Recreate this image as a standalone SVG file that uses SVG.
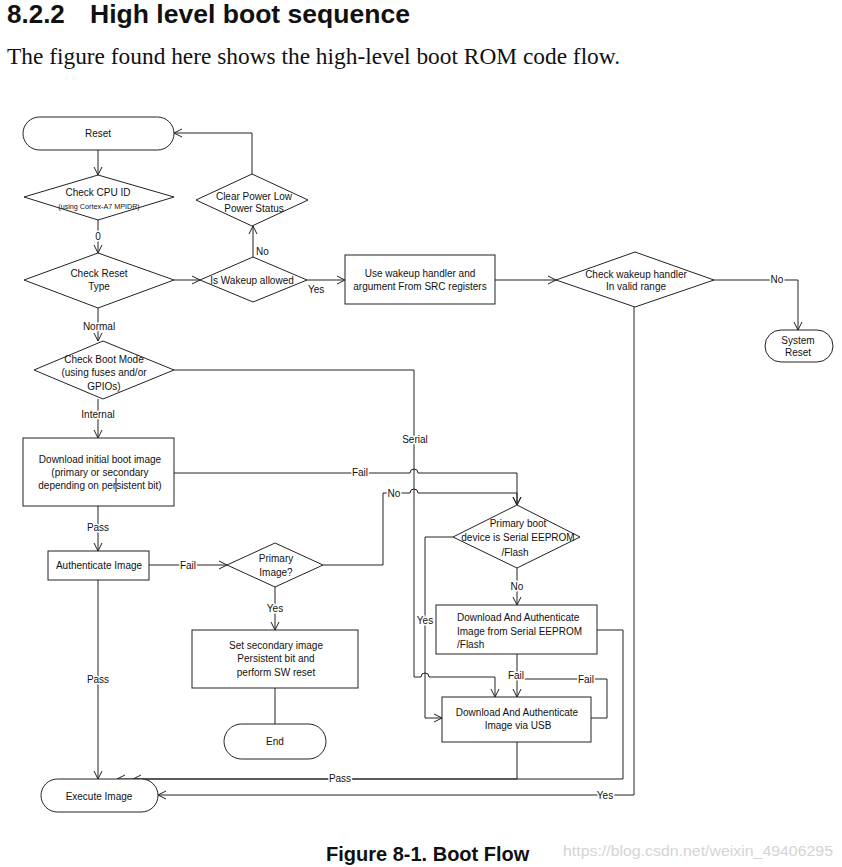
<svg xmlns="http://www.w3.org/2000/svg" width="842" height="867" viewBox="0 0 842 867">
<style>
.n{fill:#fff;stroke:#222;stroke-width:1}
.c{fill:none;stroke:#222;stroke-width:1}
text{font-family:"Liberation Sans",Arial,sans-serif;fill:#111}
.t{font-size:10px;text-anchor:middle}
.s{font-size:7.2px;text-anchor:middle}
.l{font-size:10px;text-anchor:middle;stroke:#fff;stroke-width:3px;paint-order:stroke;stroke-linejoin:round}
</style>
<defs>
<marker id="a" markerWidth="10" markerHeight="10" refX="9" refY="5" orient="auto" markerUnits="userSpaceOnUse">
<path d="M1,1 L9,5 L1,9" fill="none" stroke="#222" stroke-width="1"/>
</marker>
</defs>
<rect width="842" height="867" fill="#fff"/>
<text x="7" y="23" style="font-size:26px;font-weight:bold">8.2.2</text>
<text x="90" y="23" style="font-size:26px;font-weight:bold" textLength="320" lengthAdjust="spacingAndGlyphs">High level boot sequence</text>
<text x="7" y="64" style="font-family:'Liberation Serif','Times New Roman',serif;font-size:23px" textLength="613" lengthAdjust="spacingAndGlyphs">The figure found here shows the high-level boot ROM code flow.</text>

<g id="connectors">
<path class="c" d="M98,150 V175" marker-end="url(#a)"/>
<path class="c" d="M98,220 V253" marker-end="url(#a)"/>
<path class="c" d="M174,280 H200" marker-end="url(#a)"/>
<path class="c" d="M253,257 V226" marker-end="url(#a)"/>
<path class="c" d="M252,174 V133 H174" marker-end="url(#a)"/>
<path class="c" d="M307,280 H345" marker-end="url(#a)"/>
<path class="c" d="M495,280 H556" marker-end="url(#a)"/>
<path class="c" d="M714,280 H798 V330" marker-end="url(#a)"/>
<path class="c" d="M634,307 V795 H158" marker-end="url(#a)"/>
<path class="c" d="M98,308 V341" marker-end="url(#a)"/>
<path class="c" d="M98,399 V438" marker-end="url(#a)"/>
<path class="c" d="M174,370 H414 V677 H421 A4,4 0 0 1 429,677 H495 V697" marker-end="url(#a)"/>
<path class="c" d="M98,506 V551" marker-end="url(#a)"/>
<path class="c" d="M174,473 H410 A4,4 0 0 1 418,473 H517 V505" marker-end="url(#a)"/>
<path class="c" d="M98,580 V779" marker-end="url(#a)"/>
<path class="c" d="M149,565 H227" marker-end="url(#a)"/>
<path class="c" d="M323,565 H383 V493 H410 A4,4 0 0 1 418,493 H517 V505" marker-end="url(#a)"/>
<path class="c" d="M275,587 V630" marker-end="url(#a)"/>
<path class="c" d="M275,688 V724"/>
<path class="c" d="M453,537 H425 V718 H442" marker-end="url(#a)"/>
<path class="c" d="M517,568 V605" marker-end="url(#a)"/>
<path class="c" d="M517,654 V697" marker-end="url(#a)"/>
<path class="c" d="M591,718 H607 V679 H517"/>
<path class="c" d="M597,630 H623 V779 H117" marker-end="url(#a)"/>
<path class="c" d="M517,742 V779 H133" marker-end="url(#a)"/>
<text class="l" x="98" y="240">0</text>
<text x="256" y="255" style="font-size:10px">No</text>
<text x="308" y="293" style="font-size:10px">Yes</text>
<text class="l" x="777" y="283">No</text>
<text class="l" x="99" y="330">Normal</text>
<text class="l" x="98" y="418">Internal</text>
<text class="l" x="415" y="443">Serial</text>
<text class="l" x="360" y="475.5">Fail</text>
<text class="l" x="394" y="496.5">No</text>
<text class="l" x="98" y="530.5">Pass</text>
<text class="l" x="188" y="568.5">Fail</text>
<text class="l" x="275" y="611.5">Yes</text>
<text class="l" x="98" y="682.5">Pass</text>
<text class="l" x="517" y="589.5">No</text>
<text class="l" x="425" y="623.5">Yes</text>
<text class="l" x="516" y="678.5">Fail</text>
<text class="l" x="586" y="682.5">Fail</text>
<text class="l" x="340" y="781.5">Pass</text>
<text class="l" x="605" y="798.5">Yes</text>
</g>

<g id="reset">
<rect class="n" x="23" y="117" width="151" height="33" rx="16.5"/>
<text class="t" x="98" y="137">Reset</text>
</g>
<g id="check-cpu-id">
<polygon class="n" points="24,197 98,175 174,197 98,220"/>
<text class="t" x="98" y="196">Check CPU ID</text>
<text class="s" x="99" y="208.5">(using Cortex-A7 MPIDR)</text>
</g>
<g id="check-reset-type">
<polygon class="n" points="24,280 98,253 174,280 98,308"/>
<text class="t" x="99" y="277">Check Reset</text>
<text class="t" x="99" y="290">Type</text>
</g>
<g id="is-wakeup-allowed">
<polygon class="n" points="200,280 253,257 307,280 253,302"/>
<text class="t" x="252" y="284">Is Wakeup allowed</text>
</g>
<g id="clear-power">
<polygon class="n" points="196,200 252,174 308,200 252,226"/>
<text class="t" x="254" y="199.5">Clear Power Low</text>
<text class="t" x="254" y="211.5">Power Status</text>
</g>
<g id="use-wakeup-handler">
<rect class="n" x="345" y="255" width="150" height="49"/>
<text class="t" x="420" y="277">Use wakeup handler and</text>
<text class="t" x="420" y="290">argument From SRC registers</text>
</g>
<g id="check-wakeup-handler">
<polygon class="n" points="556,280 635,252 714,280 635,307"/>
<text class="t" x="636" y="277.5">Check wakeup handler</text>
<text class="t" x="636" y="289.5">In valid range</text>
</g>
<g id="system-reset">
<rect class="n" x="765" y="330" width="68" height="32" rx="16"/>
<text class="t" x="798" y="344">System</text>
<text class="t" x="798" y="356">Reset</text>
</g>
<g id="check-boot-mode">
<polygon class="n" points="34,370 103,341 174,370 103,399"/>
<text class="t" x="104" y="362.5">Check Boot Mode</text>
<text class="t" x="104" y="376">(using fuses and/or</text>
<text class="t" x="104" y="389.5">GPIOs)</text>
</g>
<g id="download-initial">
<rect class="n" x="23" y="438" width="151" height="68"/>
<text class="t" x="100" y="463">Download initial boot image</text>
<text class="t" x="100" y="476">(primary or secondary</text>
<text class="t" x="100" y="489">depending on persistent bit)</text>
<line class="c" x1="116" y1="478" x2="116" y2="492"/>
</g>
<g id="authenticate-image">
<rect class="n" x="48" y="551" width="101" height="29"/>
<text class="t" x="99" y="568.5">Authenticate Image</text>
</g>
<g id="primary-image">
<polygon class="n" points="227,565 275,543 323,565 275,587"/>
<text class="t" x="276" y="561.5">Primary</text>
<text class="t" x="276" y="575.5">Image?</text>
</g>
<g id="set-secondary">
<rect class="n" x="192" y="630" width="166" height="58"/>
<text class="t" x="276" y="648.5">Set secondary image</text>
<text class="t" x="276" y="661.5">Persistent bit and</text>
<text class="t" x="276" y="675.5">perform SW reset</text>
</g>
<g id="end">
<rect class="n" x="224" y="724" width="102" height="35" rx="17.5"/>
<text class="t" x="275" y="745">End</text>
</g>
<g id="primary-boot-device">
<polygon class="n" points="453,537 517,505 580,537 517,568"/>
<text class="t" x="518" y="526.5">Primary boot</text>
<text class="t" x="518" y="540.5">device is Serial EEPROM</text>
<text class="t" x="515" y="555.5">/Flash</text>
</g>
<g id="download-eeprom">
<rect class="n" x="436" y="605" width="161" height="49"/>
<text x="457" y="620.5" style="font-size:10px">Download And Authenticate</text>
<text x="457" y="634.5" style="font-size:10px">Image from Serial EEPROM</text>
<text x="457" y="648" style="font-size:10px">/Flash</text>
</g>
<g id="download-usb">
<rect class="n" x="442" y="697" width="149" height="45"/>
<text class="t" x="517" y="715.5">Download And Authenticate</text>
<text class="t" x="518" y="728.5">Image via USB</text>
</g>
<g id="execute-image">
<rect class="n" x="41" y="779" width="117" height="33" rx="16.5"/>
<text class="t" x="99" y="799.5">Execute Image</text>
</g>

<text x="326" y="861" style="font-size:20px;font-weight:bold">Figure 8-1. Boot Flow</text>
<text x="563" y="855.5" style="font-size:14px;fill:#d4d4d4" textLength="270" lengthAdjust="spacingAndGlyphs">https://blog.csdn.net/weixin_49406295</text>
</svg>
